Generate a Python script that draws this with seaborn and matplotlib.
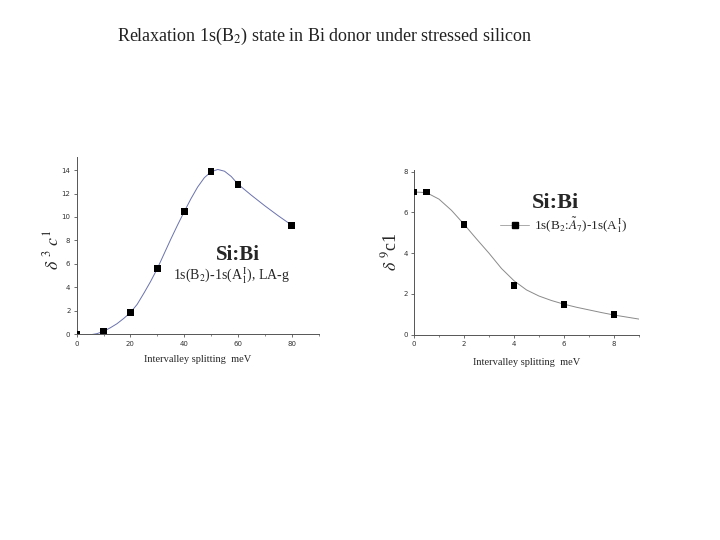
import matplotlib
matplotlib.use("Agg")
import matplotlib.pyplot as plt
from matplotlib.lines import Line2D
from matplotlib.ticker import MultipleLocator, NullLocator
import seaborn as sns
import pandas as pd

# left panel: 1s(B2)-1s(A1), LA-g
left_x = [0, 10, 20, 30, 40, 50, 60, 80]
left_y = [0.0, 0.25, 1.85, 5.6, 10.45, 13.85, 12.8, 9.3]
left_curve_x = [0, 2.5, 5, 7.5, 10, 12.5, 15, 17.5, 20, 22.5, 25, 27.5, 30, 32.5, 35,
                37.5, 40, 42.5, 45, 47.5, 50, 52.5, 55, 57.5, 60, 65, 70, 75, 80]
left_curve_y = [0.0, -0.05, -0.05, 0.05, 0.25, 0.55, 0.9, 1.35, 1.85, 2.55, 3.5, 4.5, 5.6,
                6.85, 8.1, 9.3, 10.45, 11.55, 12.55, 13.35, 13.85, 14.05, 13.9, 13.45, 12.8,
                11.85, 10.95, 10.1, 9.3]

# right panel: 1s(B2:A7)-1s(A1)
right_x = [0, 0.5, 2, 4, 6, 8]
right_y = [7.0, 7.0, 5.4, 2.4, 1.5, 1.0]
right_curve_x = [0, 0.5, 1, 1.5, 2, 2.5, 3, 3.5, 4, 4.5, 5, 5.5, 6, 6.5, 7, 7.5, 8, 8.5, 9]
right_curve_y = [7.0, 6.97, 6.65, 6.1, 5.42, 4.7, 4.0, 3.25, 2.65, 2.2, 1.9, 1.68, 1.5,
                 1.35, 1.22, 1.09, 0.97, 0.87, 0.77]

sns.set_style("ticks")
plt.rcParams['font.family'] = ['DejaVu Sans']
plt.rcParams['mathtext.fontset'] = 'stix'
serif = ['Liberation Serif', 'DejaVu Serif']

fig = plt.figure(figsize=(7.2, 5.4), dpi=100)
fig.text(0.162, 0.932, "Relaxation 1s(B$_2$) state in Bi donor under stressed silicon",
         family=serif, fontsize=13, color="#222222", ha="left", va="center")

ax1 = fig.add_axes([0.1065, 0.381, 0.336, 0.328])
ax2 = fig.add_axes([0.575, 0.380, 0.3125, 0.306])


def style_axis(ax):
    for s in ["top", "right"]:
        ax.spines[s].set_visible(False)
    for s in ["left", "bottom"]:
        ax.spines[s].set_color("#555555")
        ax.spines[s].set_linewidth(0.7)
    ax.tick_params(which="major", length=2.5, width=0.6, labelsize=5, color="#555555",
                   pad=2, labelcolor="#333333")
    ax.tick_params(which="minor", length=1.5, width=0.5, color="#555555")
    ax.yaxis.set_minor_locator(NullLocator())
    ax.set_facecolor("white")


df1 = pd.DataFrame({"x": left_curve_x, "y": left_curve_y})
sns.lineplot(data=df1, x="x", y="y", ax=ax1, color="#6a72ad", linewidth=0.7, zorder=2)
sns.scatterplot(x=left_x, y=left_y, ax=ax1, marker="s", color="black", s=24,
                edgecolor="none", zorder=3)
ax1.set_xlim(0, 90)
ax1.set_ylim(0, 15.1)
ax1.xaxis.set_major_locator(MultipleLocator(20))
ax1.xaxis.set_minor_locator(MultipleLocator(10))
ax1.yaxis.set_major_locator(MultipleLocator(2))
style_axis(ax1)
ax1.set_xlabel("Intervalley splitting  meV", family=serif, fontsize=7.5, labelpad=6)
ax1.set_ylabel(r"$\delta$ $^{3}$ $c^{1}$", family=serif, fontsize=13, labelpad=0)
ax1.yaxis.set_label_coords(-0.06, 0.48)
ax1.text(0.667, 0.45, "Si:Bi", transform=ax1.transAxes, family=serif, fontsize=15,
         fontweight="bold", ha="center", va="center")
ax1.text(0.64, 0.33, r"1s(B$_2$)-1s(A$_1^{\,\mathrm{I}}$), LA-g", transform=ax1.transAxes,
         family=serif, fontsize=10, ha="center", va="center")

df2 = pd.DataFrame({"x": right_curve_x, "y": right_curve_y})
sns.lineplot(data=df2, x="x", y="y", ax=ax2, color="#8a8a8a", linewidth=0.7, zorder=2)
sns.scatterplot(x=right_x, y=right_y, ax=ax2, marker="s", color="black", s=24,
                edgecolor="none", zorder=3)
ax2.set_xlim(0, 9)
ax2.set_ylim(0, 8.1)
ax2.xaxis.set_major_locator(MultipleLocator(2))
ax2.xaxis.set_minor_locator(MultipleLocator(1))
ax2.yaxis.set_major_locator(MultipleLocator(2))
style_axis(ax2)
ax2.set_xlabel("Intervalley splitting  meV", family=serif, fontsize=7.5, labelpad=8)
ax2.set_ylabel(r"$\delta$ $^{9}$c1", family=serif, fontsize=13, labelpad=0)
ax2.yaxis.set_label_coords(-0.062, 0.5)
ax2.text(0.627, 0.80, "Si:Bi", transform=ax2.transAxes, family=serif, fontsize=16,
         fontweight="bold", ha="center", va="center")
handle = Line2D([], [], color="#aaaaaa", linewidth=0.7, marker="s", markersize=4.5,
                markerfacecolor="black", markeredgecolor="black")
ax2.legend([handle], [r"1s(B$_2$:$\tilde{A}_7$)-1s(A$_1^{\,\mathrm{I}}$)"],
           loc="center left", bbox_to_anchor=(0.33, 0.665), frameon=False,
           prop={"family": serif, "size": 9.5}, handlelength=2.2, handletextpad=0.4)

fig.savefig("out.png", dpi=100)
